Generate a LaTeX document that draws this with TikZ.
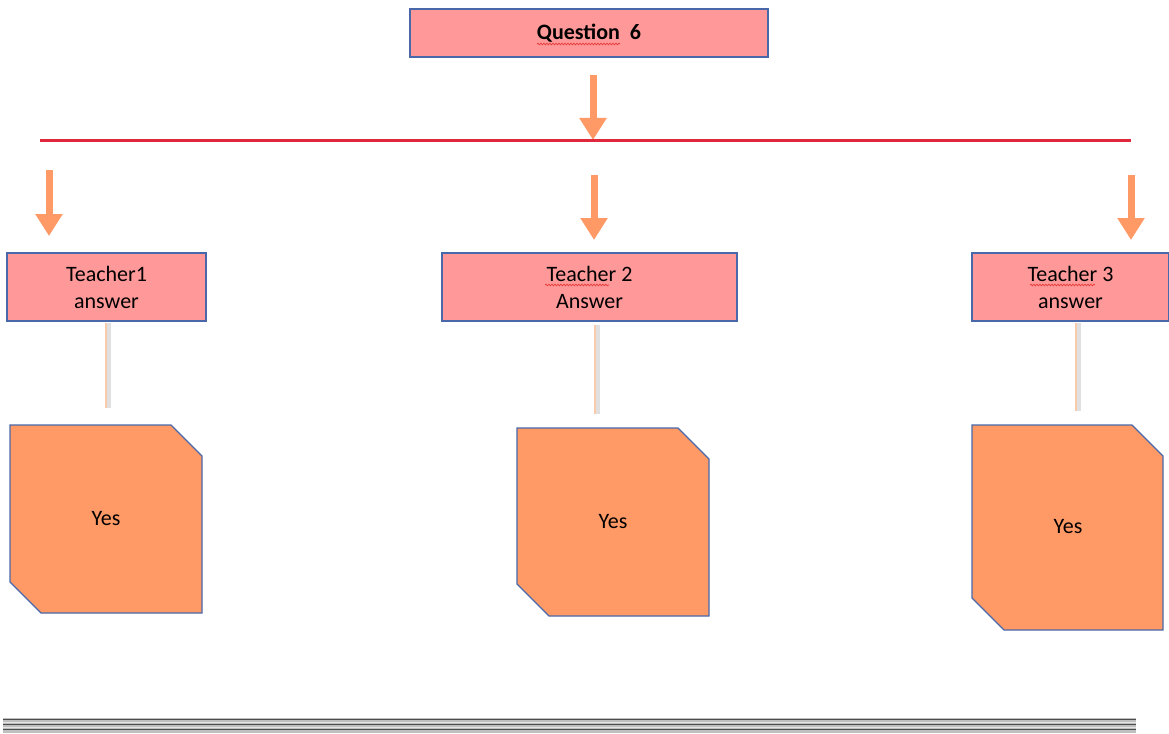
\documentclass[tikz,border=0pt]{standalone}
\usepackage{fontspec}
\setmainfont{Carlito}
\usetikzlibrary{arrows.meta,decorations.pathmorphing}
\definecolor{boxpink}{RGB}{255,153,153}
\definecolor{boxedge}{RGB}{72,104,170}
\definecolor{answerfill}{RGB}{255,153,102}
\definecolor{arrowfill}{RGB}{255,153,102}
\definecolor{barred}{RGB}{224,40,60}
\definecolor{stemcol}{RGB}{248,203,173}
\definecolor{spellred}{RGB}{230,60,60}
\tikzset{
  pinkbox/.style={draw=boxedge, line width=1.3pt, fill=boxpink, inner sep=0pt,
    align=center, font=\fontsize{22}{27}\selectfont},
  downarrow/.style={draw=arrowfill, line width=7pt,
    -{Triangle[width=26pt,length=22pt]}},
  stem/.style={draw=stemcol, line width=2pt},
  stemshadow/.style={draw=black!12, line width=4pt},
  answertext/.style={font=\fontsize{22}{27}\selectfont},
  answershape/.style={draw=boxedge, line width=1.3pt, fill=answerfill},
  spell/.style={draw=spellred, line width=0.7pt,
    decorate, decoration={snake, amplitude=0.9pt, segment length=3pt}}
}
\begin{document}
\begin{tikzpicture}[x=1pt,y=-1pt]
\useasboundingbox (0,0) rectangle (1169,733);

% title box
\node[pinkbox, minimum width=358pt, minimum height=48pt,
      font=\bfseries\fontsize{22}{27}\selectfont] (q) at (589,33) {Question\ \ 6};
\draw[spell] (537,44) -- (620,44);

% horizontal bar and arrows
\coordinate (qa) at (593,75);
\coordinate (qb) at (593,140);
\draw[downarrow] (qa) -- (qb);
\coordinate (barL) at (40,140);
\coordinate (barR) at (1131,140);
\draw[barred, line width=3pt] (barL) -- (barR);

\coordinate (a1s) at (49,170);   \coordinate (a1e) at (49,236);
\coordinate (a2s) at (594,175);  \coordinate (a2e) at (594,240);
\coordinate (a3s) at (1131,175); \coordinate (a3e) at (1131,240);
\draw[downarrow] (a1s) -- (a1e);
\draw[downarrow] (a2s) -- (a2e);
\draw[downarrow] (a3s) -- (a3e);

% teacher boxes
\node[pinkbox, minimum width=199pt, minimum height=68pt] (t1) at (106.5,287) {Teacher1\\answer};
\node[pinkbox, minimum width=295pt, minimum height=68pt] (t2) at (589.5,287) {Teacher 2\\Answer};
\node[pinkbox, minimum width=197pt, minimum height=68pt] (t3) at (1070.5,287) {Teacher 3\\answer};
\draw[spell] (545,285) -- (609,285);
\draw[spell] (1030,285) -- (1095,285);

% answer shapes (snipped top-right and bottom-left corners)
\draw[answershape] (10,425) -- (171,425) -- (202,456) -- (202,613) -- (41,613) -- (10,582) -- cycle;
\draw[answershape] (517,428) -- (678,428) -- (709,459) -- (709,616) -- (549,616) -- (517,584) -- cycle;
\draw[answershape] (972,425) -- (1132,425) -- (1163,456) -- (1163,630) -- (1004,630) -- (972,598) -- cycle;
\node[answertext] (y1) at (106,519) {Yes};
\node[answertext] (y2) at (613,522) {Yes};
\node[answertext] (y3) at (1068,527) {Yes};

% faint stems below the teacher boxes
\coordinate (s1a) at (106,323); \coordinate (s1b) at (106,408);
\coordinate (s2a) at (595,325); \coordinate (s2b) at (595,414);
\coordinate (s3a) at (1076,323); \coordinate (s3b) at (1076,411);
\foreach \p/\q in {s1a/s1b, s2a/s2b, s3a/s3b} {
  \draw[stemshadow] ([xshift=2.5pt]\p) -- ([xshift=2.5pt]\q);
  \draw[stem] (\p) -- (\q);
}

% footer rule
\fill[black!25] (3,717.5) rectangle (1136,732.5);
\foreach \yy in {719.5, 724.5, 729.5}
  \draw[black!70, line width=1.4pt] (3,\yy) -- (1136,\yy);
\foreach \yy in {722, 727}
  \draw[black!10, line width=1pt] (3,\yy) -- (1136,\yy);
\end{tikzpicture}
\end{document}
